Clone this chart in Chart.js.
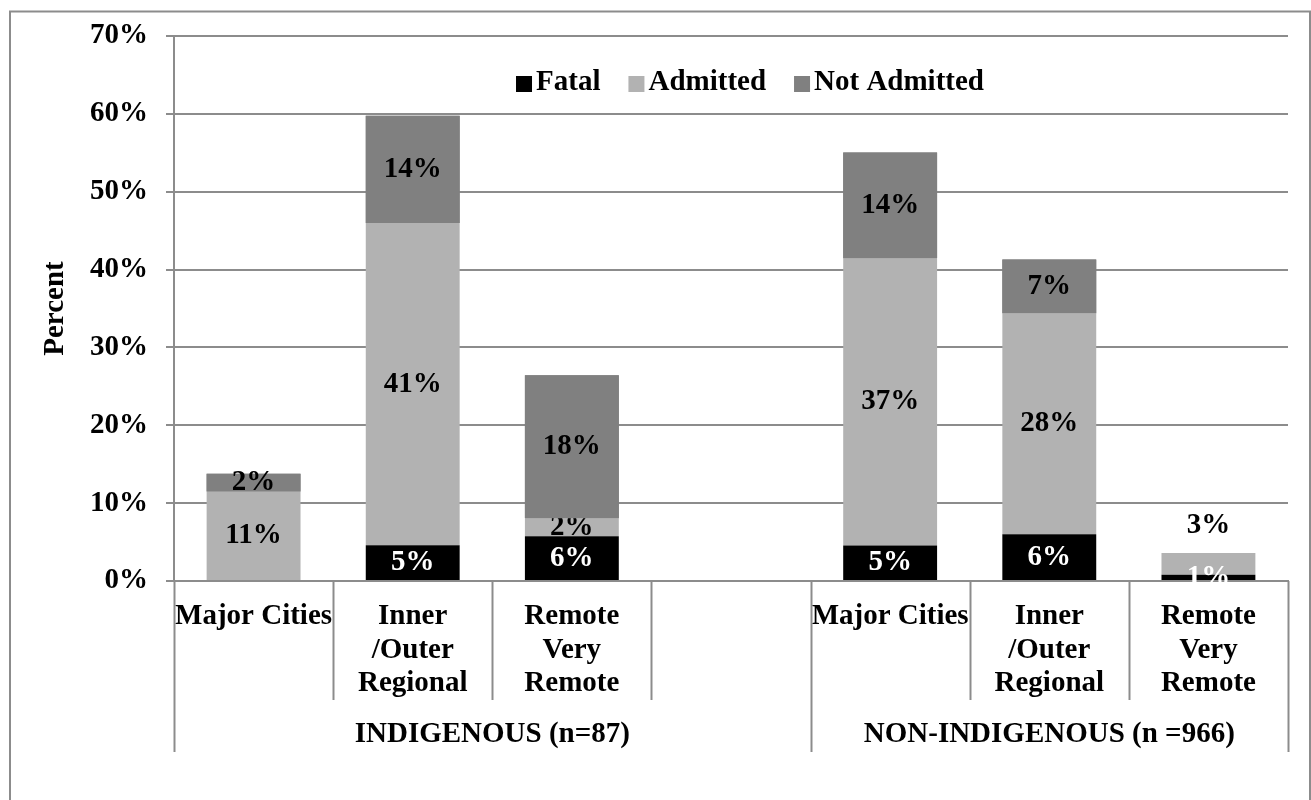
<!DOCTYPE html>
<html>
<head>
<meta charset="utf-8">
<title>Injury outcome by remoteness</title>
<script src="https://cdn.jsdelivr.net/npm/chart.js@4.4.0/dist/chart.umd.min.js"></script>
<style>
  html, body { margin: 0; padding: 0; background: #fff; }
  #wrap { position: relative; width: 1311px; height: 800px; }
</style>
</head>
<body>
<div id="wrap"><canvas id="injuryChart"></canvas></div>
<script>
// remoteness categories, the blank slot splits the two population groups
var areaLabels = [
  "Major Cities",
  ["Inner", "/Outer", "Regional"],
  ["Remote", "Very", "Remote"],
  "",
  "Major Cities",
  ["Inner", "/Outer", "Regional"],
  ["Remote", "Very", "Remote"]
];
var groupLabels = ["INDIGENOUS (n=87)", "NON-INDIGENOUS (n =966)"];
var groupFirst = [0, 4];   // first category index of each group
var groupLast = [3, 6];    // last category index of each group

var seriesNames = ["Fatal", "Admitted", "Not Admitted"];
var fatalPct = [0, 4.6, 5.75, null, 4.55, 6.0, 0.8];
var admittedPct = [11.49, 41.38, 2.3, null, 36.9, 28.4, 2.8];
var notAdmittedPct = [2.3, 13.79, 18.39, null, 13.6, 6.9, 0];

var yMax = 70;
var yStep = 10;

var FONT_FAMILY = '"Liberation Serif", "Times New Roman", serif';
var FONT_SIZE = 29;
var LINE_GREY = "#8c8c8c";
function boldFont(size) { return "bold " + size + "px " + FONT_FAMILY; }

// grey frame round the whole chart
var framePlugin = {
  id: "frame",
  beforeDraw: function (chart) {
    var ctx = chart.ctx;
    ctx.save();
    ctx.strokeStyle = LINE_GREY;
    ctx.lineWidth = 2;
    ctx.strokeRect(10, 11.5, 1300, 900);
    ctx.restore();
  }
};

function drawSegmentLabels(chart, dsIndex, color) {
  var ctx = chart.ctx;
  var zeroY = chart.scales.y.getPixelForValue(0);
  var values = chart.data.datasets[dsIndex].data;
  ctx.fillStyle = color;
  chart.getDatasetMeta(dsIndex).data.forEach(function (bar, i) {
    var v = values[i];
    if (!v) return;
    var p = bar.getProps(["x", "y", "base"], true);
    var y = (p.y + p.base) / 2;
    // is this the top segment of its stack?
    var isTop = true;
    for (var k = dsIndex + 1; k < chart.data.datasets.length; k++) {
      if (chart.data.datasets[k].data[i]) isTop = false;
    }
    // short stacks get their top label lifted above the bar
    if (isTop && zeroY - p.y < 40) y = p.y - 27;
    ctx.fillText(Math.round(v) + "%", p.x, y);
  });
}

var segmentLabelsPlugin = {
  id: "segmentLabels",
  afterDatasetsDraw: function (chart) {
    var ctx = chart.ctx;
    ctx.save();
    ctx.font = boldFont(FONT_SIZE);
    ctx.textAlign = "center";
    ctx.textBaseline = "middle";
    drawSegmentLabels(chart, 0, "#ffffff");
    drawSegmentLabels(chart, 1, "#000000");
    // top segments go back over the labels below them, then get their own
    chart.getDatasetMeta(2).data.forEach(function (bar) { bar.draw(ctx); });
    drawSegmentLabels(chart, 2, "#000000");
    ctx.restore();
  }
};

// table-style lines and group names under the x axis
var categoryTablePlugin = {
  id: "categoryTable",
  afterDraw: function (chart) {
    var ctx = chart.ctx;
    var xs = chart.scales.x;
    var area = chart.chartArea;
    var n = areaLabels.length;
    var half = (xs.getPixelForValue(1) - xs.getPixelForValue(0)) / 2;
    function edgeX(i) {
      return i < n ? xs.getPixelForValue(i) - half : xs.getPixelForValue(n - 1) + half;
    }
    var groupEdges = [];
    groupFirst.forEach(function (f, g) { groupEdges.push(f); groupEdges.push(groupLast[g] + 1); });

    ctx.save();
    ctx.strokeStyle = LINE_GREY;
    ctx.lineWidth = 2;
    for (var i = 0; i <= n; i++) {
      var px = Math.round(edgeX(i)) + 0.5;
      var len = groupEdges.indexOf(i) >= 0 ? 171 : 119;
      ctx.beginPath();
      ctx.moveTo(px, area.bottom);
      ctx.lineTo(px, area.bottom + len);
      ctx.stroke();
    }
    ctx.fillStyle = "#000";
    ctx.font = boldFont(FONT_SIZE);
    ctx.textAlign = "center";
    ctx.textBaseline = "middle";
    groupLabels.forEach(function (label, g) {
      var cx = (edgeX(groupFirst[g]) + edgeX(groupLast[g] + 1)) / 2;
      ctx.fillText(label, cx, area.bottom + 154);
    });
    ctx.restore();
  }
};

// legend row inside the plot, above the bars
var legendPlugin = {
  id: "insideLegend",
  afterDraw: function (chart) {
    var ctx = chart.ctx;
    var box = 16, boxGap = 4, itemGap = 28;
    ctx.save();
    ctx.font = boldFont(FONT_SIZE);
    ctx.textBaseline = "middle";
    ctx.textAlign = "left";
    var widths = chart.data.datasets.map(function (ds) { return ctx.measureText(ds.label).width; });
    var total = 0;
    widths.forEach(function (w, i) { total += box + boxGap + w + (i ? itemGap : 0); });
    var x = 750 - total / 2;
    var y = 83;
    chart.data.datasets.forEach(function (ds, i) {
      ctx.fillStyle = ds.backgroundColor;
      ctx.fillRect(x, y - box / 2 + 1, box, box);
      ctx.fillStyle = "#000";
      ctx.fillText(ds.label, x + box + boxGap, y);
      x += box + boxGap + widths[i] + itemGap;
    });
    ctx.restore();
  }
};

var ctx = document.getElementById("injuryChart");
var injuryChart = new Chart(ctx, {
  type: "bar",
  data: {
    labels: areaLabels,
    datasets: [
      { label: seriesNames[0], data: fatalPct, backgroundColor: "#000000" },
      { label: seriesNames[1], data: admittedPct, backgroundColor: "#b2b2b2" },
      { label: seriesNames[2], data: notAdmittedPct, backgroundColor: "#808080" }
    ]
  },
  options: {
    responsive: true,
    maintainAspectRatio: false,
    animation: false,
    datasets: { bar: { barPercentage: 0.59, categoryPercentage: 1.0 } },
    layout: { padding: { left: 0, right: 23, top: 36, bottom: 0 } },
    plugins: {
      legend: { display: false },
      tooltip: { enabled: false }
    },
    scales: {
      x: {
        stacked: true,
        grid: { display: false, drawTicks: false },
        border: { color: LINE_GREY, width: 2 },
        ticks: {
          color: "#000",
          font: { family: FONT_FAMILY, size: FONT_SIZE, weight: "bold", lineHeight: 1.15 },
          padding: 19,
          maxRotation: 0,
          autoSkip: false
        },
        afterFit: function (scale) { scale.height = 219; }
      },
      y: {
        stacked: true,
        min: 0,
        max: yMax,
        grid: { color: LINE_GREY, lineWidth: 2, tickLength: 8, drawTicks: true },
        border: { color: LINE_GREY, width: 2 },
        ticks: {
          stepSize: yStep,
          color: "#000",
          padding: 18,
          font: { family: FONT_FAMILY, size: FONT_SIZE, weight: "bold" },
          callback: function (v) { return v + "%"; }
        },
        title: {
          display: true,
          text: "Percent",
          color: "#000",
          font: { family: FONT_FAMILY, size: FONT_SIZE, weight: "bold" },
          padding: { top: 38, bottom: 0 }
        },
        afterFit: function (scale) { scale.width = 174; }
      }
    }
  },
  plugins: [framePlugin, segmentLabelsPlugin, categoryTablePlugin, legendPlugin]
});
</script>
</body>
</html>
